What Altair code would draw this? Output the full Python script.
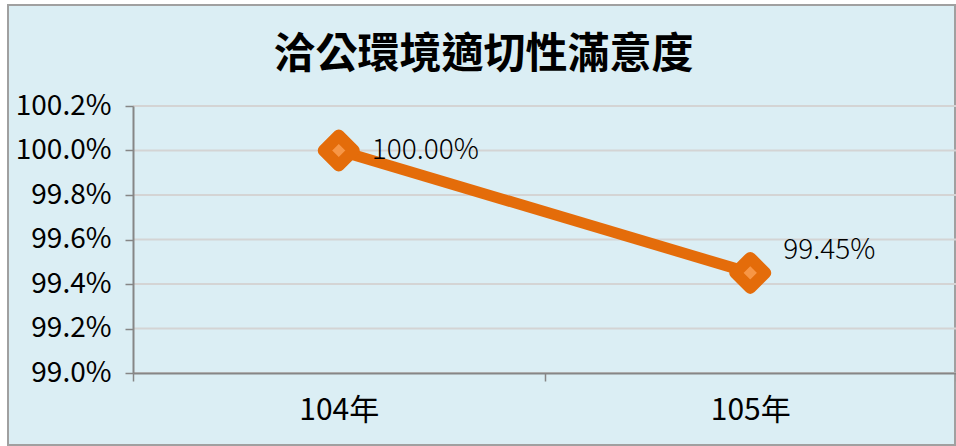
import altair as alt
import pandas as pd

years = ["104年", "105年"]
values = [1.0000, 0.9945]
y_ticks = [0.990, 0.992, 0.994, 0.996, 0.998, 1.000, 1.002]
title_text = "洽公環境適切性滿意度"

FONT = "Noto Sans CJK TC"
ORANGE = "#E46C0A"
LIGHT_ORANGE = "#F79646"
BG = "#DBEEF4"

df = pd.DataFrame({"year": years, "value": values})
grid_df = pd.DataFrame({"value": y_ticks})

W, H = 823, 267
PL, PT, PB = 133, 106, 73

x_enc = alt.X("year:N", sort=years,
              scale=alt.Scale(domain=years, paddingInner=0, paddingOuter=0),
              axis=alt.Axis(title=None, labelAngle=0, labelFont=FONT, labelFontSize=30,
                            labelColor="#000000", labelPadding=14, domainColor="#868686",
                            domainWidth=2, tickColor="#868686", tickWidth=1.5, tickSize=8,
                            tickBand="extent", grid=False, zindex=1))
y_scale = alt.Scale(domain=[0.990, 1.002], nice=False, zero=False)
y_axis = alt.Axis(title=None, values=y_ticks, format=".1%", labelFont=FONT,
                  labelFontSize=28, labelColor="#000000", labelPadding=14,
                  domainColor="#868686", domainWidth=2, tickColor="#868686",
                  tickWidth=1.5, tickSize=8, grid=False, zindex=1)
y_enc = alt.Y("value:Q", scale=y_scale, axis=y_axis)

frame = alt.Chart(alt.Data(values=[{}])).mark_rect(
    fill=BG, stroke="#A0A0A0", strokeWidth=2
).encode(
    x=alt.value(8 - PL), x2=alt.value(955 - PL),
    y=alt.value(5 - PT), y2=alt.value(445 - PT)
)

grid = alt.Chart(grid_df).mark_rule(color="#D4D4D4", strokeWidth=2).encode(
    y=y_enc,
    x=alt.value(0), x2=alt.value(W)
)

line = alt.Chart(df).mark_line(color=ORANGE, strokeWidth=11).encode(x=x_enc, y=y_enc)

points = alt.Chart(df).mark_point(
    shape="diamond", size=900, filled=True, fill=LIGHT_ORANGE, stroke=ORANGE,
    strokeWidth=12, strokeJoin="round", opacity=1
).encode(x=x_enc, y=y_enc)

label_style = dict(align="left", baseline="middle", dx=33, font=FONT, fontSize=28,
                   fontWeight=300, color="#000000")
labels_a = alt.Chart(df).transform_filter(alt.datum.year == years[0]).mark_text(
    **label_style, dy=0
).encode(x=x_enc, y=y_enc, text=alt.Text("value:Q", format=".2%"))
labels_b = alt.Chart(df).transform_filter(alt.datum.year == years[1]).mark_text(
    **label_style, dy=-22
).encode(x=x_enc, y=y_enc, text=alt.Text("value:Q", format=".2%"))

chart = alt.layer(frame, grid, line, points, labels_a, labels_b).properties(
    width=W, height=H,
    title=alt.TitleParams(title_text, font=FONT, fontSize=42, fontWeight="bold",
                          color="#000000", anchor="middle", frame="group", dx=-61,
                          offset=-73),
    autosize=alt.AutoSizeParams(type="none"),
    padding={"left": PL, "top": PT, "right": 0, "bottom": PB},
    background="#FFFFFF"
).configure_view(stroke=None)

chart.save("out.html", embed_options={"renderer": "svg", "actions": False})
